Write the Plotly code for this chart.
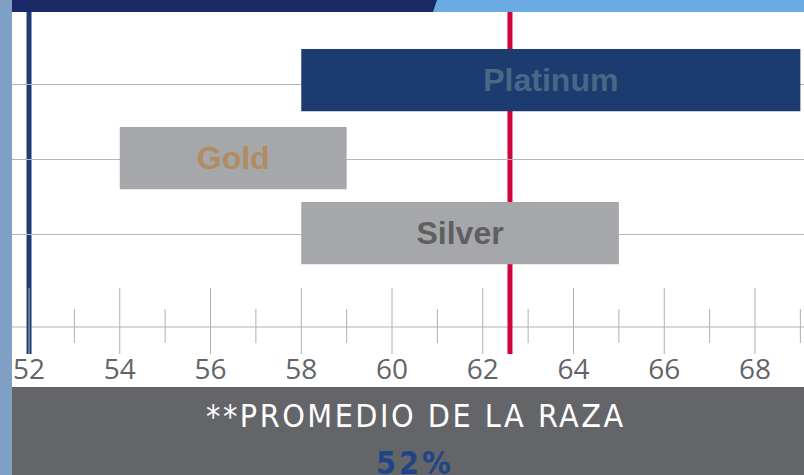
import plotly.graph_objects as go

# ---- data ----
categories = ["Platinum", "Gold", "Silver"]
range_start = [58, 54, 58]
range_end = [69, 59, 65]
breed_average = 52
herd_value = 62.6
major_ticks = [52, 54, 56, 58, 60, 62, 64, 66, 68]
minor_ticks = [53, 55, 57, 59, 61, 63, 65, 67, 69]
footer_title = "**PROMEDIO DE LA RAZA"
footer_value = "52%"

# ---- styles ----
bar_colors = ["#1c3c70", "#a6a7aa", "#a6a7aa"]
label_colors = ["#4a6787", "#b08c62", "#5f5f62"]
bar_offsets = [-0.362, -0.402, -0.402]
W, H = 804, 475
ML, MR, MT, MB = 12, 0, 12, 121
PH = H - MT - MB  # plot height in px
COND = "Liberation Sans Narrow, DejaVu Sans Condensed, Arial Narrow, sans-serif"


def py(px):
    """pixel row -> paper y"""
    return (H - MB - px) / PH


def px_x(px):
    """pixel column -> paper x"""
    return (px - ML) / (W - ML - MR)


fig = go.Figure()
fig.add_trace(go.Bar(
    y=categories,
    x=[e - s for s, e in zip(range_start, range_end)],
    base=range_start,
    orientation="h",
    width=0.83,
    offset=bar_offsets,
    marker=dict(color=bar_colors, line=dict(width=0)),
    text=categories,
    textposition="inside",
    insidetextanchor="middle",
    textangle=0,
    insidetextfont=dict(family="Liberation Sans, Arial, sans-serif", size=32,
                        color=label_colors, weight="bold"),
    hoverinfo="skip",
    showlegend=False,
))

shapes = []
# axis baseline
shapes.append(dict(type="line", xref="paper", yref="paper", x0=0, x1=1,
                   y0=py(327), y1=py(327), line=dict(color="#b3b3b3", width=1),
                   layer="between"))
# reference vertical lines
shapes.append(dict(type="line", xref="x", yref="paper", x0=breed_average, x1=breed_average,
                   y0=0, y1=1, line=dict(color="#1f3c73", width=5), layer="between"))
shapes.append(dict(type="line", xref="x", yref="paper", x0=herd_value, x1=herd_value,
                   y0=0, y1=1, line=dict(color="#d2043e", width=5), layer="between"))
# tick marks
for t in major_ticks:
    shapes.append(dict(type="line", xref="x", yref="paper", x0=t, x1=t,
                       y0=py(354), y1=py(288), line=dict(color="#b0b0b0", width=1),
                       layer="above"))
for t in minor_ticks:
    shapes.append(dict(type="line", xref="x", yref="paper", x0=t, x1=t,
                       y0=py(343), y1=py(309), line=dict(color="#b0b0b0", width=1),
                       layer="above"))
# decoration: left strip
shapes.append(dict(type="rect", xref="paper", yref="paper", x0=px_x(0), x1=px_x(12),
                   y0=py(H), y1=py(0), fillcolor="#7f9fc4", line=dict(width=0), layer="above"))
# top band
shapes.append(dict(type="rect", xref="paper", yref="paper", x0=px_x(12), x1=px_x(W),
                   y0=py(12), y1=py(0), fillcolor="#6aabe4", line=dict(width=0), layer="above"))
shapes.append(dict(type="path", xref="paper", yref="paper",
                   path=f"M {px_x(12)},{py(0)} L {px_x(437)},{py(0)} L {px_x(433)},{py(12)} L {px_x(12)},{py(12)} Z",
                   fillcolor="#1b2a66", line=dict(width=0), layer="above"))
# bottom panel
shapes.append(dict(type="rect", xref="paper", yref="paper", x0=px_x(12), x1=px_x(W),
                   y0=py(H), y1=py(387), fillcolor="#646569", line=dict(width=0), layer="above"))

annotations = [
    dict(xref="paper", yref="paper", x=px_x(416), y=py(416), xanchor="center", yanchor="middle",
         text=f'<span style="letter-spacing:2.5px">{footer_title}</span>', showarrow=False,
         font=dict(family=COND, size=32, color="#ffffff")),
    dict(xref="paper", yref="paper", x=px_x(415), y=py(463), xanchor="center", yanchor="middle",
         text=f'<span style="letter-spacing:3px">{footer_value}</span>', showarrow=False,
         font=dict(family=COND, size=32, color="#1f4587", weight="bold")),
]

fig.update_layout(
    width=W, height=H,
    margin=dict(l=ML, r=MR, t=MT, b=MB, pad=0),
    paper_bgcolor="#ffffff", plot_bgcolor="#ffffff",
    shapes=shapes, annotations=annotations,
    showlegend=False,
    xaxis=dict(range=[51.625, 69.08], tickvals=major_ticks, showgrid=False, zeroline=False,
               showline=False, ticks="", fixedrange=True, ticklabelstandoff=-4,
               tickfont=dict(family="Open Sans, sans-serif", size=28, color="#636469")),
    yaxis=dict(type="category", categoryorder="array", categoryarray=["Silver", "Gold", "Platinum"],
               range=[-1.6, 2.96], showgrid=True, gridcolor="#b5b5b5", gridwidth=1,
               showticklabels=False, zeroline=False, showline=False, ticks="", fixedrange=True),
)

fig.write_html("out.html", config={"displayModeBar": False},
               post_script="document.body.style.margin='0';document.body.style.overflow='hidden';")
